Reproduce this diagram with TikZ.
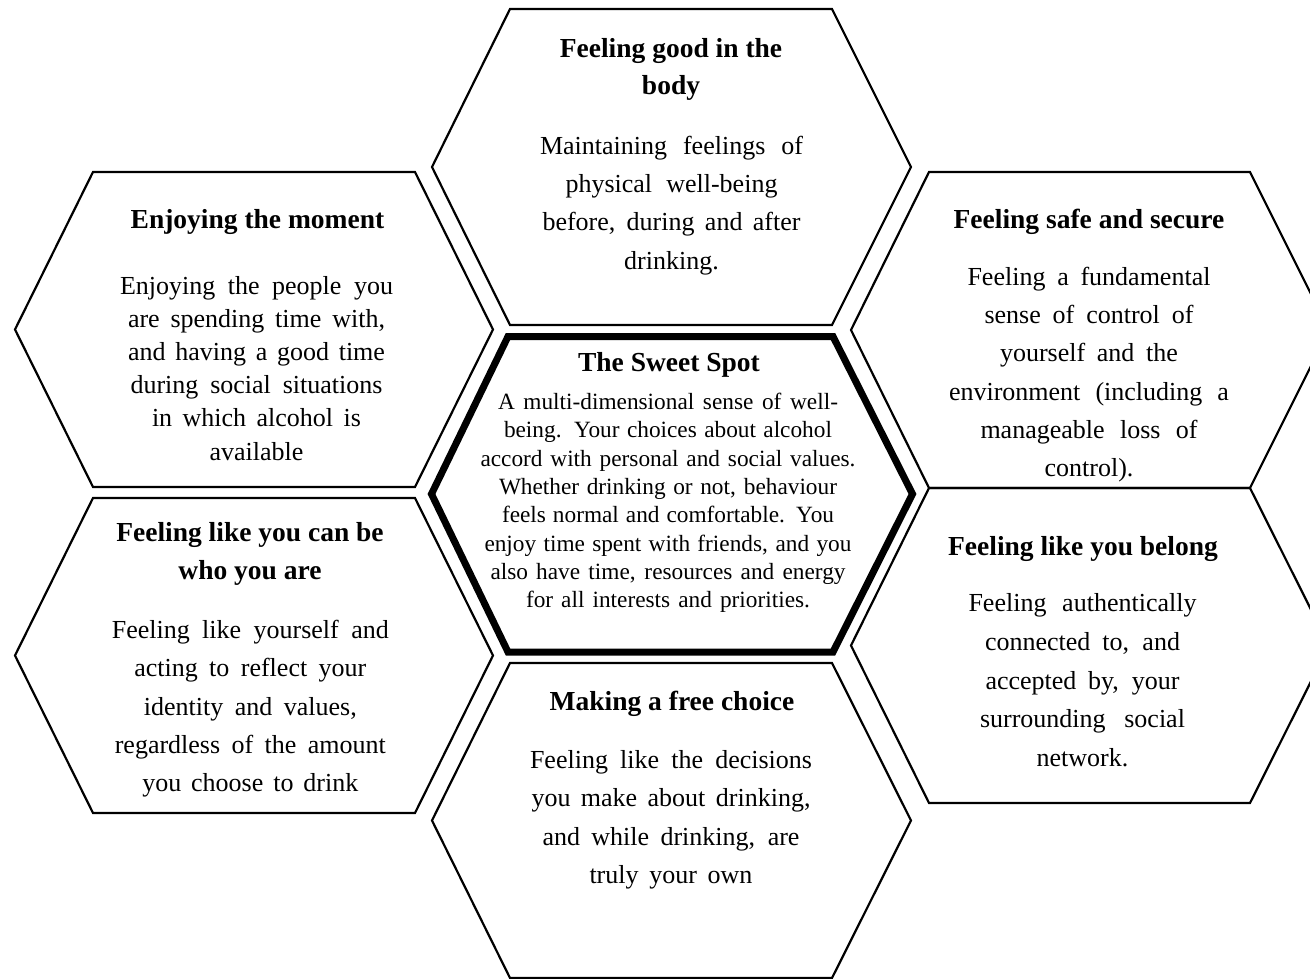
\documentclass[tikz,border=0pt]{standalone}
\usepackage{fontspec}
\setmainfont{Liberation Serif}
\newcommand{\jw}[2]{\makebox[#1pt][s]{#2}}
\newcommand{\hexstrut}{\rule{0pt}{20pt}}
\begin{document}
\begin{tikzpicture}[x=1pt,y=-1pt,
  hexline/.style={draw=black,line width=2.2pt,line join=miter},
  hexthick/.style={draw=black,line width=7pt,line join=miter},
  ttl/.style={font=\bfseries\fontsize{27.5}{37}\selectfont,align=center,inner sep=0pt,anchor=north},
  bdy/.style={font=\fontsize{26}{38.3}\selectfont,align=center,inner sep=0pt,anchor=north},
  cbdy/.style={font=\fontsize{23.3}{28.3}\selectfont,align=center,inner sep=0pt,anchor=north}]
\useasboundingbox (0,0) rectangle (1310,979);
\fill[white] (0,0) rectangle (1310,979);
\begin{scope}
\clip (0,0) rectangle (1310,979);
% top
\draw[hexline] (510,9) -- (832,9) -- (911,167) -- (832,325) -- (510,325) -- (432,167) -- cycle;
% bottom
\draw[hexline] (510,663) -- (832,663) -- (911,820.5) -- (832,978) -- (510,978) -- (432,820.5) -- cycle;
% left top
\draw[hexline] (93,172) -- (415,172) -- (493,329.5) -- (415,487) -- (93,487) -- (15,329.5) -- cycle;
% left bottom
\draw[hexline] (93,498) -- (415,498) -- (493,655.5) -- (415,813) -- (93,813) -- (15,655.5) -- cycle;
% right top
\draw[hexline] (929,172) -- (1250,172) -- (1329,330) -- (1250,488) -- (929,488) -- (851,330) -- cycle;
% right bottom
\draw[hexline] (929,488) -- (1250,488) -- (1329,645.5) -- (1250,803) -- (929,803) -- (851,645.5) -- cycle;
% center
\draw[hexthick] (508,336.5) -- (833,336.5) -- (912.5,494) -- (833,652) -- (508,652) -- (431.5,494) -- cycle;
\end{scope}

% top hexagon text
\node[ttl] (t1) at (671,37.3) {\hexstrut Feeling good in the\\ body};
\node[bdy] (b1) at (671.5,134) {\hexstrut\jw{263}{Maintaining feelings of}\\
  \jw{212}{physical well-being}\\ \jw{258}{before, during and after}\\ drinking.};

% center
\node[ttl] (t0) at (669,351.7) {\hexstrut The Sweet Spot};
\node[cbdy] (b0) at (668,389.3) {\hexstrut\jw{340}{A multi-dimensional sense of well-}\\
  \jw{328}{being. Your choices about alcohol}\\
  \jw{375}{accord with personal and social values.}\\
  \jw{338}{Whether drinking or not, behaviour}\\
  \jw{332}{feels normal and comfortable. You}\\
  \jw{367}{enjoy time spent with friends, and you}\\
  \jw{355}{also have time, resources and energy}\\
  \jw{284}{for all interests and priorities.}};

% bottom
\node[ttl] (t4) at (672,690.7) {\hexstrut Making a free choice};
\node[bdy] (b4) at (671,748.3) {\hexstrut\jw{282}{Feeling like the decisions}\\
  \jw{279}{you make about drinking,}\\ \jw{257}{and while drinking, are}\\
  \jw{163}{truly your own}};

% left top
\node[ttl] (t6) at (257.5,208.3) {\hexstrut Enjoying the moment};
\node[bdy,font=\fontsize{26}{33.1}\selectfont] (b6) at (256.5,274.3) {\hexstrut\jw{273}{Enjoying the people you}\\
  \jw{257}{are spending time with,}\\ \jw{257}{and having a good time}\\
  \jw{252}{during social situations}\\ \jw{209}{in which alcohol is}\\ available};

% left bottom
\node[ttl,font=\bfseries\fontsize{27.5}{37.6}\selectfont] (t5) at (250,521.7) {\hexstrut Feeling like you can be\\ who you are};
\node[bdy] (b5) at (250.3,618.3) {\hexstrut\jw{277}{Feeling like yourself and}\\
  \jw{232}{acting to reflect your}\\ \jw{213}{identity and values,}\\
  \jw{271}{regardless of the amount}\\ \jw{216}{you choose to drink}};

% right top
\node[ttl] (t2) at (1089,208.3) {\hexstrut Feeling safe and secure};
\node[bdy] (b2) at (1089,265) {\hexstrut\jw{243}{Feeling a fundamental}\\
  \jw{209}{sense of control of}\\ \jw{178}{yourself and the}\\
  \jw{280}{environment (including a}\\ \jw{217}{manageable loss of}\\ control).};

% right bottom
\node[ttl] (t3) at (1083,535) {\hexstrut Feeling like you belong};
\node[bdy,font=\fontsize{26}{38.6}\selectfont] (b3) at (1082.5,591.7) {\hexstrut\jw{228}{Feeling authentically}\\
  \jw{195}{connected to, and}\\ \jw{194}{accepted by, your}\\
  \jw{205}{surrounding social}\\ network.};
\end{tikzpicture}
\end{document}
